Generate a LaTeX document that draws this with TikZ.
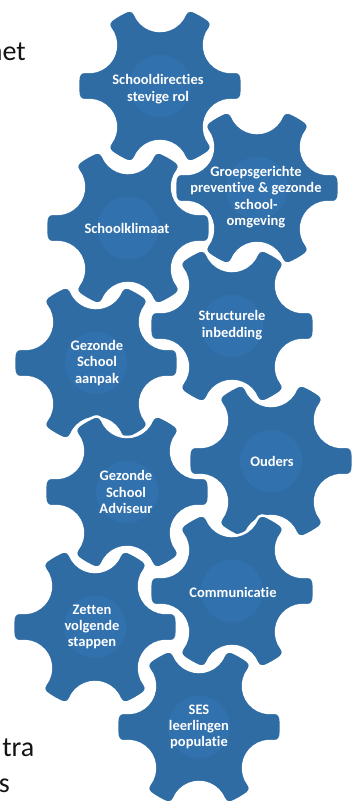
\documentclass[tikz,border=0pt]{standalone}
\usepackage{fontspec}
\setmainfont{Carlito}[Ligatures=NoCommon]
\definecolor{gearblue}{RGB}{46,108,163}
\definecolor{gearlight}{RGB}{49,113,174}
\definecolor{slidetext}{RGB}{20,20,20}
\begin{document}
\begin{tikzpicture}[x=1pt,y=-1pt,
  gearfill/.style={fill=gearblue, draw=white, line width=2.5pt, line join=round},
  glow/.style={fill=gearlight},
  lbl/.style={text=white, font=\fontsize{14.5}{16.3}\selectfont\bfseries, align=center, inner sep=0pt},
  slide/.style={text=slidetext, font=\fontsize{28}{34}\selectfont, inner sep=0pt, anchor=base east},
  gear/.pic={
    \path[gearfill] (-6.28:82)
      \foreach \k in {0,60,...,300} {
        arc[start angle=\k-6.28, end angle=\k+6.28, radius=82]
        arc[start angle=\k+6.28, end angle=\k+97.89, radius=6]
        arc[start angle=\k-82.11, end angle=\k-217.89, radius=27]
        arc[start angle=\k-37.89, end angle=\k+53.72, radius=6]
      } -- cycle;
    \fill[glow] (0,0) circle[radius=31];
  }]
\useasboundingbox (0,0) rectangle (361,804);
\clip (0,0) rectangle (361,804);

% slide text cut off at the left edge (as in the reference)
\node[slide] (t1) at (26,60) {net};
\node[slide] (t2) at (34.5,756) {tra};
\node[slide] (t3) at (10,792) {s};

% gears
\pic at (160,86) {gear};
\pic at (257,188) {gear};
\pic at (128,228) {gear};
\pic at (232,326) {gear};
\pic at (96,363) {gear};
\pic at (271,461) {gear};
\pic at (127,492) {gear};
\pic at (232,591) {gear};
\pic at (95,627) {gear};
\pic at (199,727) {gear};

% labels
\node[lbl] (g1) at (158,89) {Schooldirecties\\stevige rol};
\node[lbl] (g2) at (256,197) {Groepsgerichte\\preventive \& gezonde\\school-\\omgeving};
\node[lbl] (g3) at (127,228) {Schoolklimaat};
\node[lbl] (g4) at (232,325) {Structurele\\inbedding};
\node[lbl] (g5) at (97,363) {Gezonde\\School\\aanpak};
\node[lbl] (g6) at (272,461) {Ouders};
\node[lbl] (g7) at (126,492) {Gezonde\\School\\Adviseur};
\node[lbl] (g8) at (233,592) {Communicatie};
\node[lbl] (g9) at (92,627) {Zetten\\volgende\\stappen};
\node[lbl] (g10) at (199,727) {SES\\leerlingen\\populatie};
\end{tikzpicture}
\end{document}
